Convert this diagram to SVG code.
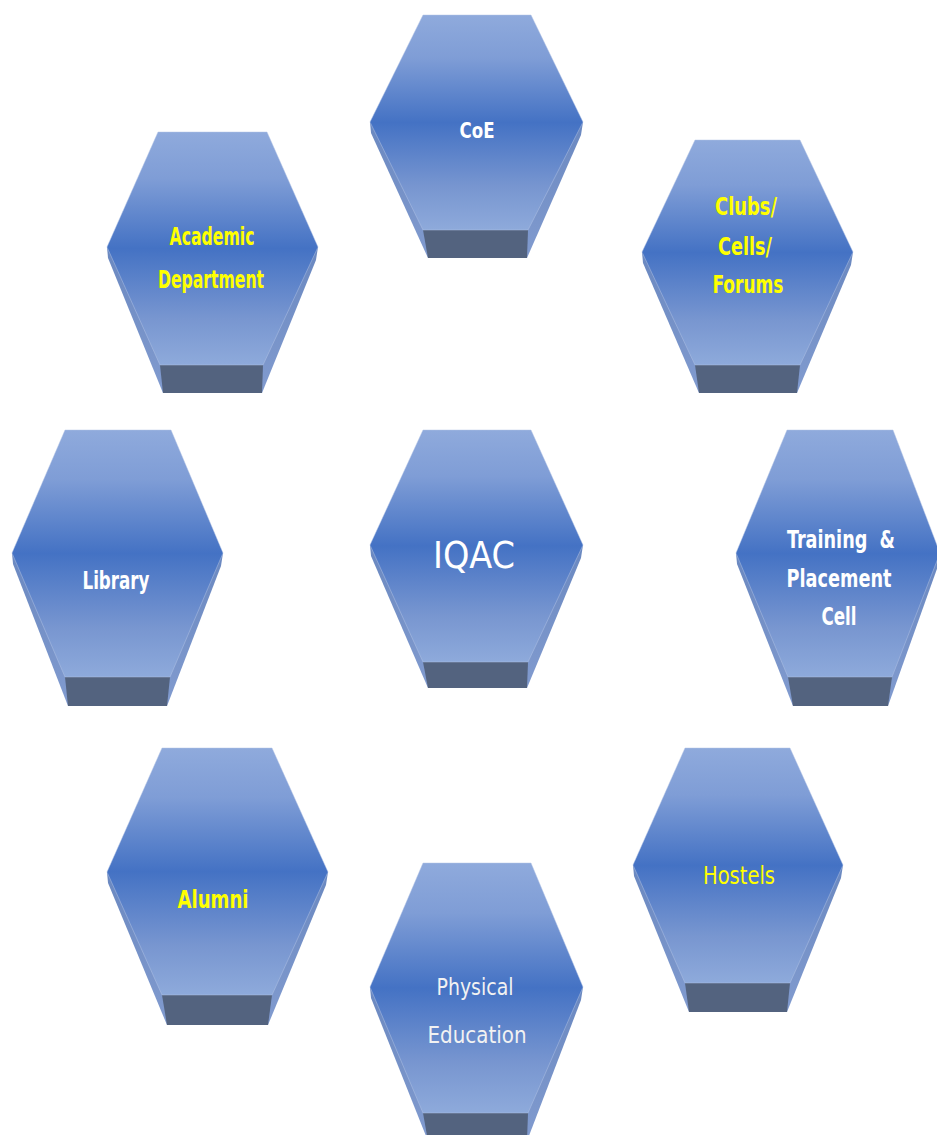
<svg xmlns="http://www.w3.org/2000/svg" width="937" height="1135" viewBox="0 0 937 1135">
<defs>
<linearGradient id="faceG" x1="0" y1="0" x2="0" y2="1">
<stop offset="0" stop-color="#8faadc"/>
<stop offset="0.2" stop-color="#7f9dd6"/>
<stop offset="0.5" stop-color="#4472c4"/>
<stop offset="0.8" stop-color="#7896d0"/>
<stop offset="1" stop-color="#8eaadb"/>
</linearGradient>
<linearGradient id="sideG" x1="0" y1="0" x2="0" y2="1">
<stop offset="0" stop-color="#6a88c0"/>
<stop offset="1" stop-color="#819bcf"/>
</linearGradient>
<style>
.side{fill:url(#sideG)}
.bottom{fill:#53637f}
.face{fill:url(#faceG);stroke:#b4c4e6;stroke-width:0.8;stroke-opacity:0.6}
.lbl{font-family:"DejaVu Sans Condensed","Liberation Sans Narrow","Liberation Sans",sans-serif;font-size:24px;text-anchor:middle}
.b{font-weight:bold}
.w{fill:#ffffff}
.y{fill:#ffff00}
</style>
</defs>
<g id="connectors"/>

<g id="node-coe">
<polygon class="side" points="370,122 371,133 428,258 527,258 581,135 583,122"/>
<polygon class="bottom" points="423,230 528,230 527,258 428,258"/>
<polygon class="face" points="423,15 531,15 583,122 528,230 423,230 370,122"/>
<text class="lbl b w" x="477" y="138" style="font-size:22px" textLength="35" lengthAdjust="spacingAndGlyphs">CoE</text>
</g>

<g id="node-academic">
<polygon class="side" points="107,247 108,258 163,393 262,393 316,260 318,247"/>
<polygon class="bottom" points="160,365 263,365 262,393 163,393"/>
<polygon class="face" points="158,132 267,132 318,247 263,365 160,365 107,247"/>
<text class="lbl b y" x="212" y="245" textLength="85" lengthAdjust="spacingAndGlyphs">Academic</text>
<text class="lbl b y" x="211" y="288" textLength="106" lengthAdjust="spacingAndGlyphs">Department</text>
</g>

<g id="node-clubs">
<polygon class="side" points="642,252 643,263 699,393 797,393 851,265 853,252"/>
<polygon class="bottom" points="695,365 800,365 797,393 699,393"/>
<polygon class="face" points="695,140 800,140 853,252 800,365 695,365 642,252"/>
<text class="lbl b y" x="746" y="215" textLength="62" lengthAdjust="spacingAndGlyphs">Clubs/</text>
<text class="lbl b y" x="745" y="255" textLength="54" lengthAdjust="spacingAndGlyphs">Cells/</text>
<text class="lbl b y" x="748" y="293" textLength="71" lengthAdjust="spacingAndGlyphs">Forums</text>
</g>

<g id="node-library">
<polygon class="side" points="12,553 13,564 68,706 167,706 221,566 223,553"/>
<polygon class="bottom" points="65,677 170,677 167,706 68,706"/>
<polygon class="face" points="65,430 171,430 223,553 170,677 65,677 12,553"/>
<text class="lbl b w" x="116" y="589" textLength="67" lengthAdjust="spacingAndGlyphs">Library</text>
</g>

<g id="node-iqac">
<polygon class="side" points="370,545 371,556 428,688 527,688 581,558 583,545"/>
<polygon class="bottom" points="423,662 528,662 527,688 428,688"/>
<polygon class="face" points="423,430 531,430 583,545 528,662 423,662 370,545"/>
<text class="lbl w" x="474" y="568" style="font-size:38px" textLength="82" lengthAdjust="spacingAndGlyphs">IQAC</text>
</g>

<g id="node-training">
<polygon class="side" points="736,553 737,564 793,706 888,706 938,566 940,553"/>
<polygon class="bottom" points="788,677 892,677 888,706 793,706"/>
<polygon class="face" points="787,430 893,430 940,553 892,677 788,677 736,553"/>
<text class="lbl b w" x="841" y="548" xml:space="preserve" textLength="108" lengthAdjust="spacingAndGlyphs">Training  &amp;</text>
<text class="lbl b w" x="839" y="587" textLength="105" lengthAdjust="spacingAndGlyphs">Placement</text>
<text class="lbl b w" x="839" y="625" textLength="35" lengthAdjust="spacingAndGlyphs">Cell</text>
</g>

<g id="node-alumni">
<polygon class="side" points="107,872 108,883 167,1025 268,1025 326,885 328,872"/>
<polygon class="bottom" points="162,995 272,995 268,1025 167,1025"/>
<polygon class="face" points="162,748 272,748 328,872 272,995 162,995 107,872"/>
<text class="lbl b y" x="213" y="908" textLength="71" lengthAdjust="spacingAndGlyphs">Alumni</text>
</g>

<g id="node-physical">
<polygon class="side" points="370,987 371,998 428,1141 527,1141 581,1000 583,987"/>
<polygon class="bottom" points="423,1113 528,1113 527,1141 428,1141"/>
<polygon class="face" points="423,863 531,863 583,987 528,1113 423,1113 370,987"/>
<text class="lbl w" x="475" y="995" style="fill:#f2f2f2;font-size:23px" textLength="77" lengthAdjust="spacingAndGlyphs">Physical</text>
<text class="lbl w" x="477" y="1043" style="fill:#f2f2f2;font-size:23px" textLength="99" lengthAdjust="spacingAndGlyphs">Education</text>
</g>

<g id="node-hostels">
<polygon class="side" points="633,865 634,876 689,1012 787,1012 841,878 843,865"/>
<polygon class="bottom" points="685,983 790,983 787,1012 689,1012"/>
<polygon class="face" points="685,748 790,748 843,865 790,983 685,983 633,865"/>
<text class="lbl y" x="739" y="884" textLength="72" lengthAdjust="spacingAndGlyphs">Hostels</text>
</g>
</svg>
